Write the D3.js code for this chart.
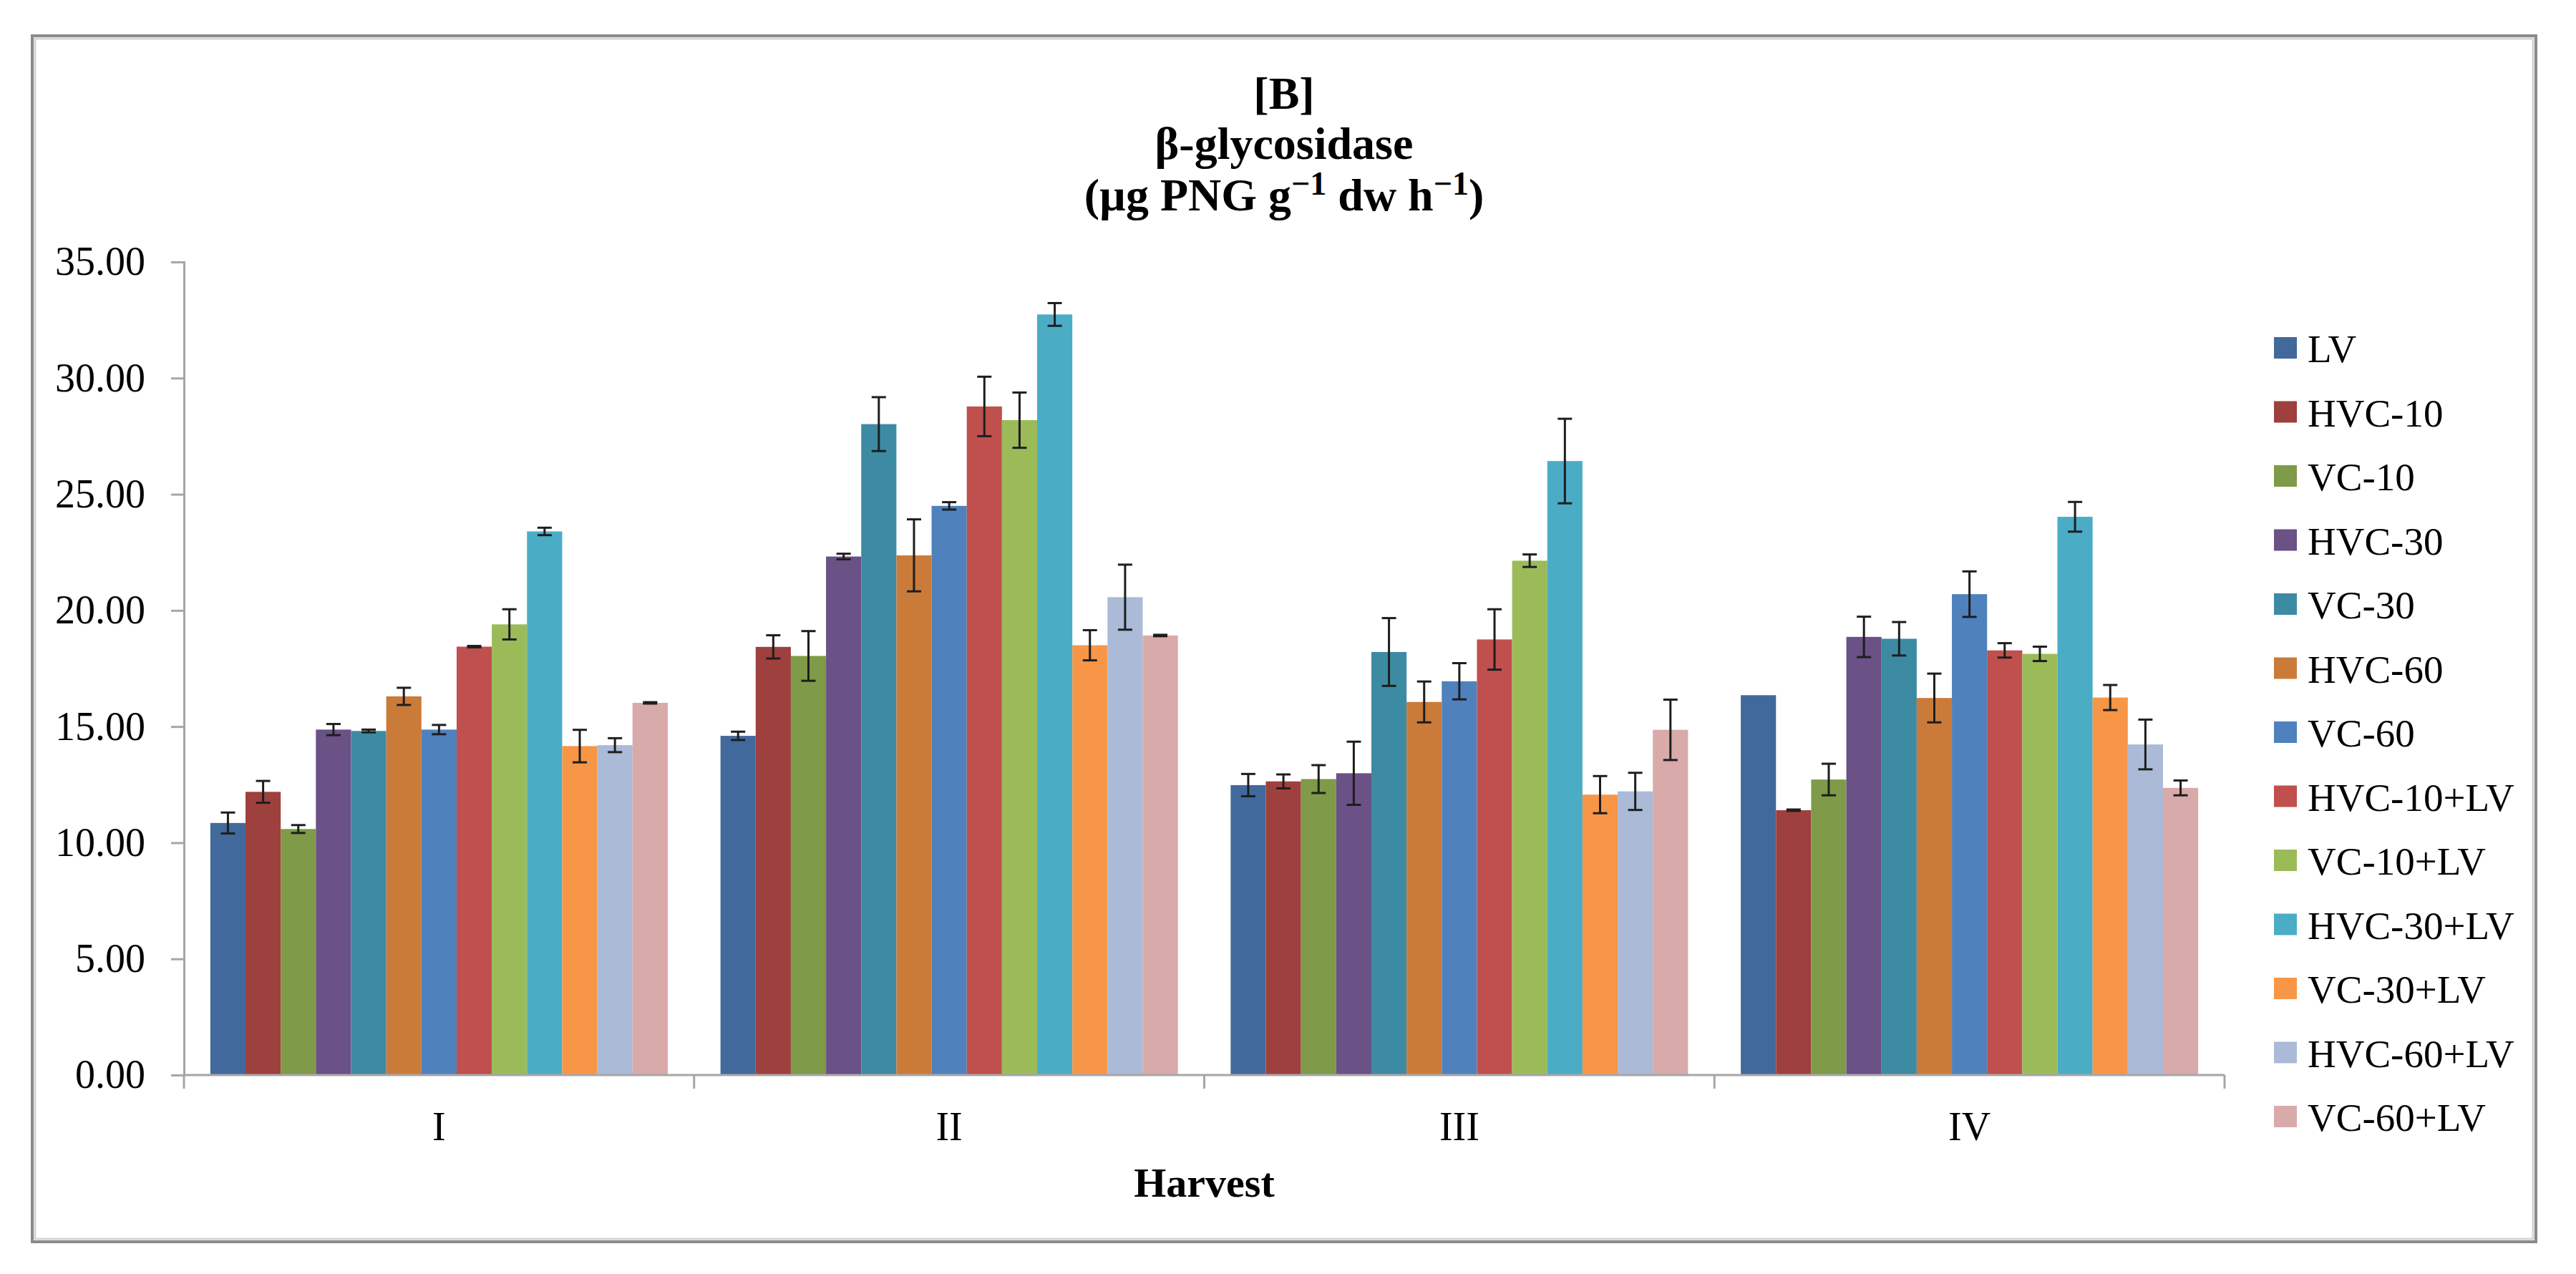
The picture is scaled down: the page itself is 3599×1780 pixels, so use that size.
<!DOCTYPE html>
<html>
<head>
<meta charset="utf-8">
<script src="https://cdn.jsdelivr.net/npm/d3@7"></script>
<style>
    body { margin: 0; background: white; }
    text { font-family: "Liberation Serif", "DejaVu Serif", serif; fill: black; }
</style>
</head>
<body>
<script>
var harvests = ["I", "II", "III", "IV"];
var treatments = ["LV", "HVC-10", "VC-10", "HVC-30", "VC-30", "HVC-60", "VC-60",
    "HVC-10+LV", "VC-10+LV", "HVC-30+LV", "VC-30+LV", "HVC-60+LV", "VC-60+LV"];
var colors = ["#41699b", "#9e403e", "#7f9a48", "#6a5186", "#3c8ba3", "#cb7b39", "#4f81bd",
    "#c0504d", "#9bbb59", "#4bacc6", "#f79646", "#aabad7", "#d9aaaa"];

var harvestI = [10.85, 12.19, 10.59, 14.87, 14.81, 16.30, 14.87, 18.44, 19.40, 23.40, 14.16, 14.20, 16.02];
var harvestII = [14.60, 18.43, 18.04, 22.32, 28.02, 22.37, 24.50, 28.78, 28.19, 32.74, 18.50, 20.57, 18.92];
var harvestIII = [12.48, 12.64, 12.74, 12.99, 18.21, 16.06, 16.95, 18.75, 22.14, 26.43, 12.07, 12.21, 14.86];
var harvestIV = [16.35, 11.40, 12.72, 18.86, 18.78, 16.23, 20.70, 18.28, 18.13, 24.03, 16.25, 14.23, 12.36];

var errI = [0.45, 0.47, 0.17, 0.24, 0.06, 0.37, 0.20, 0.03, 0.65, 0.16, 0.70, 0.30, 0.03];
var errII = [0.18, 0.50, 1.07, 0.12, 1.16, 1.55, 0.16, 1.28, 1.19, 0.49, 0.65, 1.40, 0.03];
var errIII = [0.48, 0.30, 0.60, 1.36, 1.46, 0.88, 0.78, 1.30, 0.27, 1.82, 0.80, 0.80, 1.30];
var errIV = [0, 0.03, 0.68, 0.87, 0.72, 1.05, 0.98, 0.31, 0.31, 0.64, 0.54, 1.07, 0.32];

var yTicks = [0, 5, 10, 15, 20, 25, 30, 35];

function drawChart() {
    var values = [harvestI, harvestII, harvestIII, harvestIV];
    var errors = [errI, errII, errIII, errIV];

    var width = 3599, height = 1780;
    var plot = { left: 257, right: 3108, top: 366, bottom: 1502 };
    var axisColor = "#a6a6a6";

    var svg = d3.select("body").append("svg")
        .attr("width", width)
        .attr("height", height);

    svg.append("rect")
        .attr("width", width)
        .attr("height", height)
        .attr("fill", "white");

    // chart frame: dark outer line with a light inner line
    svg.append("rect")
        .attr("x", 45).attr("y", 50)
        .attr("width", 3498).attr("height", 1685)
        .attr("fill", "none")
        .attr("stroke", "#8a8a8a")
        .attr("stroke-width", 4);
    svg.append("rect")
        .attr("x", 49).attr("y", 54)
        .attr("width", 3490).attr("height", 1677)
        .attr("fill", "none")
        .attr("stroke", "#d4d4d4")
        .attr("stroke-width", 3);

    var x0 = d3.scaleBand()
        .domain(harvests)
        .range([plot.left, plot.right])
        .paddingInner(0)
        .paddingOuter(0);

    var x1 = d3.scaleBand()
        .domain(treatments)
        .range([0, x0.bandwidth()])
        .paddingInner(0)
        .paddingOuter(0.75);

    var y = d3.scaleLinear()
        .domain([0, 35])
        .range([plot.bottom, plot.top]);

    // title
    var title = svg.append("text")
        .attr("text-anchor", "middle")
        .attr("font-weight", "bold")
        .attr("font-size", 64);
    title.append("tspan").attr("x", 1794).attr("y", 152).text("[B]");
    title.append("tspan").attr("x", 1794).attr("y", 222).text("β-glycosidase");
    var line3 = title.append("tspan").attr("x", 1794).attr("y", 294);
    line3.append("tspan").text("(µg PNG g");
    line3.append("tspan").attr("dy", -22).attr("font-size", 46).text("−1");
    line3.append("tspan").attr("dy", 22).text(" dw h");
    line3.append("tspan").attr("dy", -22).attr("font-size", 46).text("−1");
    line3.append("tspan").attr("dy", 22).text(")");

    // y axis
    var yAxis = svg.append("g")
        .attr("transform", "translate(" + plot.left + ",0)")
        .call(d3.axisLeft(y).tickValues(yTicks).tickSize(18).tickPadding(36)
            .tickFormat(d3.format(".2f")));
    yAxis.select(".domain").attr("stroke", axisColor).attr("stroke-width", 3);
    yAxis.selectAll(".tick line").attr("stroke", axisColor).attr("stroke-width", 3);
    yAxis.selectAll(".tick text")
        .attr("font-size", 56)
        .attr("font-family", "Liberation Serif")
        .attr("fill", "black");

    // bars
    var groups = svg.selectAll(".harvest")
        .data(harvests)
        .enter().append("g")
        .attr("class", "harvest")
        .attr("transform", function (d) { return "translate(" + x0(d) + ",0)"; });

    groups.each(function (h, gi) {
        var g = d3.select(this);
        var rows = treatments.map(function (t, i) {
            return { name: t, value: values[gi][i], err: errors[gi][i], color: colors[i] };
        });

        g.selectAll("rect")
            .data(rows)
            .enter().append("rect")
            .attr("x", function (d) { return x1(d.name); })
            .attr("y", function (d) { return y(d.value); })
            .attr("width", x1.bandwidth())
            .attr("height", function (d) { return y(0) - y(d.value); })
            .attr("fill", function (d) { return d.color; });

        var eb = g.selectAll(".err")
            .data(rows.filter(function (d) { return d.err > 0; }))
            .enter().append("g")
            .attr("class", "err")
            .attr("stroke", "#1e1e1e")
            .attr("stroke-width", 3);
        eb.append("line")
            .attr("x1", function (d) { return x1(d.name) + x1.bandwidth() / 2; })
            .attr("x2", function (d) { return x1(d.name) + x1.bandwidth() / 2; })
            .attr("y1", function (d) { return y(d.value + d.err); })
            .attr("y2", function (d) { return y(d.value - d.err); });
        [1, -1].forEach(function (s) {
            eb.append("line")
                .attr("x1", function (d) { return x1(d.name) + x1.bandwidth() / 2 - 10; })
                .attr("x2", function (d) { return x1(d.name) + x1.bandwidth() / 2 + 10; })
                .attr("y1", function (d) { return y(d.value + s * d.err); })
                .attr("y2", function (d) { return y(d.value + s * d.err); });
        });
    });

    // x axis
    svg.append("line")
        .attr("x1", plot.left).attr("x2", plot.right)
        .attr("y1", plot.bottom).attr("y2", plot.bottom)
        .attr("stroke", axisColor).attr("stroke-width", 3);

    var bounds = harvests.map(function (h) { return x0(h); }).concat([plot.right]);
    svg.selectAll(".xtick")
        .data(bounds)
        .enter().append("line")
        .attr("class", "xtick")
        .attr("x1", function (d) { return d; }).attr("x2", function (d) { return d; })
        .attr("y1", plot.bottom).attr("y2", plot.bottom + 19)
        .attr("stroke", axisColor).attr("stroke-width", 3);

    svg.selectAll(".xlabel")
        .data(harvests)
        .enter().append("text")
        .attr("class", "xlabel")
        .attr("x", function (d) { return x0(d) + x0.bandwidth() / 2; })
        .attr("y", 1593)
        .attr("text-anchor", "middle")
        .attr("font-size", 56)
        .text(function (d) { return d; });

    svg.append("text")
        .attr("x", (plot.left + plot.right) / 2)
        .attr("y", 1672)
        .attr("text-anchor", "middle")
        .attr("font-weight", "bold")
        .attr("font-size", 58)
        .text("Harvest");

    // legend
    var legend = svg.selectAll(".legend")
        .data(treatments)
        .enter().append("g")
        .attr("class", "legend")
        .attr("transform", function (d, i) { return "translate(3177," + (486 + i * 89.5) + ")"; });

    legend.append("rect")
        .attr("x", 0).attr("y", -15)
        .attr("width", 32).attr("height", 30)
        .attr("fill", function (d, i) { return colors[i]; });

    legend.append("text")
        .attr("x", 47)
        .attr("y", 20)
        .attr("font-size", 55)
        .text(function (d) { return d; });
}

drawChart();
</script>
</body>
</html>
